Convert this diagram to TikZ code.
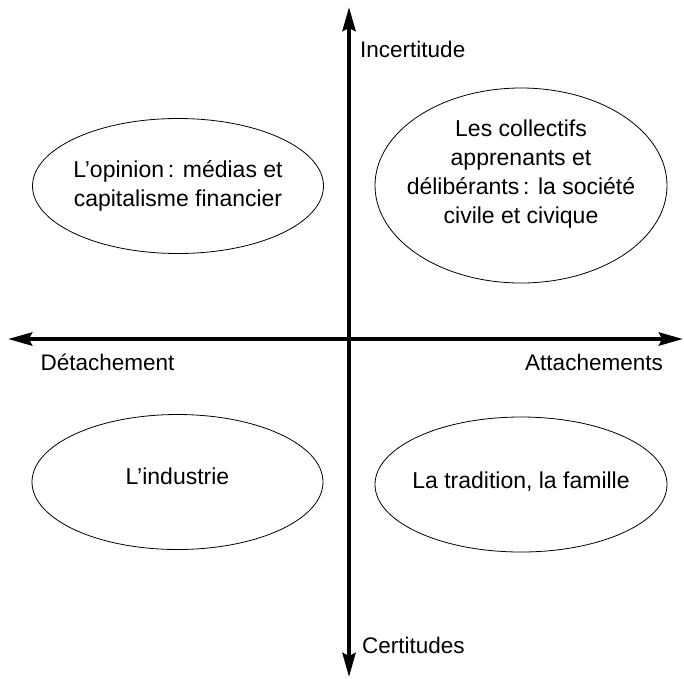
\documentclass[tikz,border=0pt]{standalone}
\usepackage{fontspec}
\setmainfont{Liberation Sans}
\usetikzlibrary{arrows.meta,shapes.geometric}
\tikzset{
  axisline/.style={<->, >={Stealth[length=24pt, width=13pt, inset=3pt]}, line width=4pt},
  zone/.style={draw, ellipse, line width=0.8pt, align=center, inner xsep=-12pt, inner ysep=0pt,
    minimum width=291pt, minimum height=135pt, font=\fontsize{23}{29}\selectfont},
  axlabel/.style={inner sep=0pt, font=\fontsize{22.5}{27}\selectfont}
}
\begin{document}
\begin{tikzpicture}[x=1pt, y=-1pt]
  \useasboundingbox (0,0) rectangle (684,678);

  % axes
  \coordinate (tipN) at (349,7);
  \coordinate (tipS) at (349,677);
  \coordinate (tipW) at (8,339);
  \coordinate (tipE) at (683,339);
  \draw[axisline] (tipW) -- (tipE);
  \draw[axisline] (tipS) -- (tipN);

  \node[axlabel, anchor=west] (incert) at (360,49) {Incertitude};
  \node[axlabel, anchor=west] (cert) at (362,645) {Certitudes};
  \node[axlabel] (detach) at (107.5,362) {Détachement};
  \node[axlabel] (attach) at (594,362) {Attachements};

  % quadrants
  \node[zone] (opinion) at (178,186) {L’opinion\,: médias et\\capitalisme financier};
  \node[zone, minimum width=292pt, minimum height=195pt, text depth=28pt] (civil) at (521,185.5)
    {Les collectifs\\apprenants et\\délibérants\,: la société\\civile et civique};
  \node[zone, text depth=12pt] (industrie) at (177.5,482) {L’industrie};
  \node[zone, minimum width=292pt, text depth=9pt] (tradition) at (521,484.5) {La tradition, la famille};
\end{tikzpicture}
\end{document}
